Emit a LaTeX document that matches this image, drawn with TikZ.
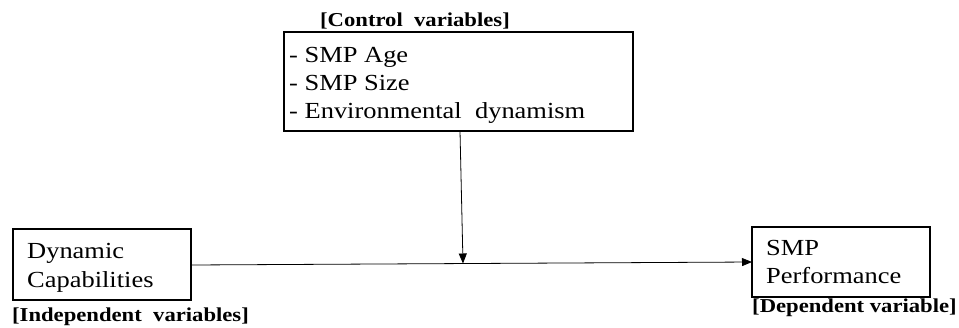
\documentclass[tikz,border=0pt]{standalone}
\usepackage{fontspec}
\setmainfont{Liberation Serif}[FakeStretch=1.15]
\usetikzlibrary{arrows.meta}
\begin{document}
\begin{tikzpicture}[x=1pt,y=-1pt,
  box/.style={draw,line width=1.8pt},
  txt/.style={anchor=base west,inner sep=0pt,font=\fontsize{23}{28}\selectfont},
  tag/.style={anchor=base west,inner sep=0pt,font=\fontsize{19.7}{24}\selectfont\bfseries},
  link/.style={line width=0.8pt,-{Triangle[length=10pt,width=8pt]}}]
\useasboundingbox (0,0) rectangle (959,327);
% boxes
\draw[box] (284,32) rectangle (633,131);
\draw[box] (13,229) rectangle (191,300);
\draw[box] (752,227) rectangle (930,297);
\coordinate (ctrlS) at (460,131);
\coordinate (join) at (463,263.5);
\coordinate (indE) at (191,265);
\coordinate (depW) at (752,262);
% texts
\node[tag] (ctrltag) at (320,26) {[Control\ \ variables]};
\node[txt] (c1) at (289,62) {- SMP Age};
\node[txt] (c2) at (289,90) {- SMP Size};
\node[txt] (c3) at (289,118) {- Environmental\ \ dynamism};
\node[txt] (ind1) at (27,258) {Dynamic};
\node[txt] (ind2) at (27,287) {Capabilities};
\node[txt] (dep1) at (766,255) {SMP};
\node[txt] (dep2) at (766,283) {Performance};
\node[tag] (indtag) at (12,321) {[Independent\ \ variables]};
\node[tag] (deptag) at (752,312) {[Dependent variable]};
% connectors
\draw[link] (ctrlS) -- (join);
\draw[link] (indE) -- (depW);
\end{tikzpicture}
\end{document}
